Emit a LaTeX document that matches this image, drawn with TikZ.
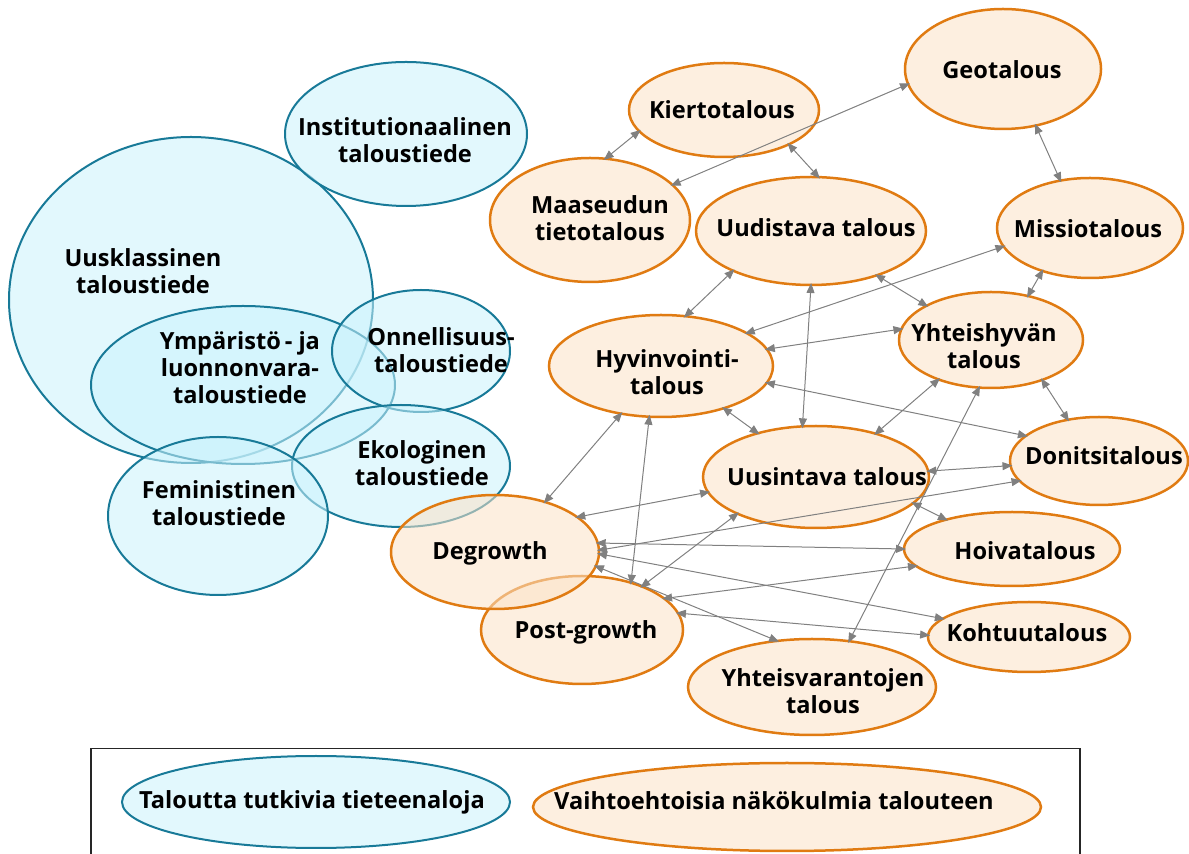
\documentclass[tikz,border=0pt]{standalone}
\usepackage{fontspec}
\setmainfont{Open Sans}
\usetikzlibrary{shapes.geometric,arrows.meta}
\definecolor{bstroke}{RGB}{24,122,152}
\definecolor{bfill}{RGB}{202,242,252}
\definecolor{ostroke}{RGB}{224,123,18}
\definecolor{ofill}{RGB}{251,226,199}
\definecolor{linkgray}{RGB}{128,128,128}
\tikzset{
  bell/.style={ellipse, draw=bstroke, line width=1pt, fill=bfill, fill opacity=0.55, inner sep=0pt, outer sep=0pt},
  oell/.style={ellipse, draw=ostroke, line width=1.25pt, fill=ofill, fill opacity=0.55, inner sep=0pt, outer sep=0pt},
  lbl/.style={font=\fontsize{11.8}{13.5}\selectfont\bfseries, align=center, text=black, inner sep=0pt},
  link/.style={draw=linkgray, line width=0.5pt, shorten <=-1pt, shorten >=-1pt, {Triangle[length=5pt,width=4pt]}-{Triangle[length=5pt,width=4pt]}},
  frame/.style={draw=black!85, line width=0.6pt}
}
\newcommand\myell[6]{\node[#1, minimum width=#5pt, minimum height=#6pt] (#2) at (#3,#4) {};}
\begin{document}
\begin{tikzpicture}[x=0.5pt,y=-0.5pt]
\useasboundingbox (0,0) rectangle (1189,854);
% blue ellipses
\myell{bell}{uus}{191}{300}{182}{163}
\myell{bell}{inst}{406}{134}{121}{72}
\myell{bell}{ymp}{243}{385}{152}{79}
\myell{bell}{onn}{421}{351}{89}{61}
\myell{bell}{eko}{401}{466}{109}{61}
\myell{bell}{fem}{218}{516}{110}{79}
% orange ellipses
\myell{oell}{pos}{582}{630}{101}{54}
\myell{oell}{deg}{495}{552}{104}{57}
\myell{oell}{geo}{1003}{69}{98}{60}
\myell{oell}{kie}{724}{110}{95}{47}
\myell{oell}{maa}{590}{220}{100}{62}
\myell{oell}{uud}{811}{231}{115}{54}
\myell{oell}{mis}{1090}{228}{93}{50}
\myell{oell}{hyv}{661}{366}{112}{51}
\myell{oell}{yht}{991}{340}{92}{48}
\myell{oell}{uui}{816}{477}{113}{51}
\myell{oell}{don}{1099}{461}{89}{44}
\myell{oell}{hoi}{1012}{549}{108}{37}
\myell{oell}{koh}{1029}{637}{101}{35}
\myell{oell}{yva}{812}{687}{124}{48}
% connectors
\draw[link] (maa.76) -- (kie.194);
\draw[link] (maa.23) -- (geo.189);
\draw[link] (kie.332.5) -- (uud.82);
\draw[link] (geo.300) -- (mis.122);
\draw[link] (mis.222.5) -- (yht.50);
\draw[link] (uud.207) -- (hyv.64);
\draw[link] (mis.192.5) -- (hyv.21.6);
\draw[link] (uud.326.5) -- (yht.152);
\draw[link] (uud.270) -- (uui.105);
\draw[link] (hyv.9.9) -- (yht.173.7);
\draw[link] (hyv.351.4) -- (don.161.8);
\draw[link] (hyv.326) -- (uui.143);
\draw[link] (yht.217) -- (uui.36);
\draw[link] (yht.322.5) -- (don.127.6);
\draw[link] (hyv.230) -- (deg.45);
\draw[link] (hyv.257) -- (pos.44.4);
\draw[link] (uui.3.4) -- (don.183);
\draw[link] (deg.23.5) -- (uui.188);
\draw[link] (deg.1.1) -- (don.194);
\draw[link] (deg.5.9) -- (hoi.180);
\draw[link] (uui.345) -- (hoi.156);
\draw[link] (uui.205.7) -- (pos.36.6);
\draw[link] (yht.256) -- (yva.51.5);
\draw[link] (pos.21.6) -- (hoi.190.8);
\draw[link] (deg.359.5) -- (koh.168.3);
\draw[link] (deg.352.8) -- (yva.127);
\draw[link] (pos.10.8) -- (koh.179.4);
% labels
\node[lbl] (uus-t) at (143,271) {Uusklassinen\\taloustiede};
\node[lbl] (inst-t) at (405,140) {Institutionaalinen\\taloustiede};
\node[lbl] (ymp-t) at (240,368) {Ympäristö\,- ja\\luonnonvara-\\taloustiede};
\node[lbl] (onn-t) at (441,350) {Onnellisuus-\\taloustiede};
\node[lbl] (eko-t) at (422,463) {Ekologinen\\taloustiede};
\node[lbl] (fem-t) at (219,503) {Feministinen\\taloustiede};
\node[lbl] (geo-t) at (1002,70) {Geotalous};
\node[lbl] (kie-t) at (722,110) {Kiertotalous};
\node[lbl] (maa-t) at (600,218) {Maaseudun\\tietotalous};
\node[lbl] (uud-t) at (816,228) {Uudistava talous};
\node[lbl] (mis-t) at (1088,229) {Missiotalous};
\node[lbl] (hyv-t) at (667,372) {Hyvinvointi-\\talous};
\node[lbl] (yht-t) at (984,346) {Yhteishyvän\\talous};
\node[lbl] (uui-t) at (827,477) {Uusintava talous};
\node[lbl] (don-t) at (1104,456) {Donitsitalous};
\node[lbl] (hoi-t) at (1025,551) {Hoivatalous};
\node[lbl] (koh-t) at (1027,633) {Kohtuutalous};
\node[lbl] (yva-t) at (823,691) {Yhteisvarantojen\\talous};
\node[lbl] (deg-t) at (490,553) {Degrowth};
\node[lbl] (pos-t) at (586,632) {Post-growth};
% legend
\draw[frame] (91,860) -- (91,748.5) -- (1080,748.5) -- (1080,860);
\myell{bell}{lb}{316}{802}{194}{46}
\myell{oell}{lo}{787}{807}{254}{44}
\node[lbl] (lb-t) at (312,802) {Taloutta tutkivia tieteenaloja};
\node[lbl] (lo-t) at (774,801) {Vaihtoehtoisia näkökulmia talouteen};
\end{tikzpicture}
\end{document}
